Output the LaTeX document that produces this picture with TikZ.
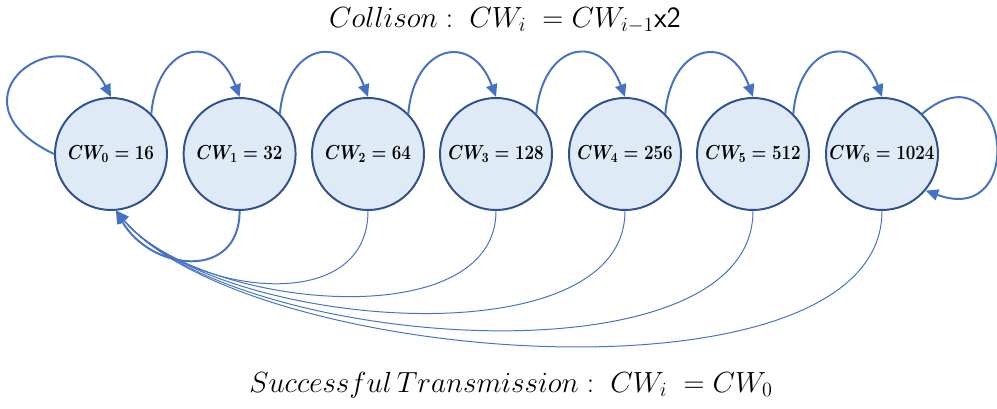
\documentclass[tikz,border=0pt]{standalone}
\usepackage{amsmath,graphicx}
\usetikzlibrary{arrows.meta}
\definecolor{cwfill}{HTML}{DEEBF7}
\definecolor{cwline}{HTML}{2F528F}
\definecolor{cwarrow}{HTML}{4472C4}
\newcommand{\etiq}[1]{\makebox[0pt]{\scalebox{0.84}[1]{\boldmath$#1$}}}
\tikzset{etat/.style={circle,draw=cwline,line width=1.4pt,fill=cwfill,minimum size=2.8cm,inner sep=0pt,font=\fontsize{14.5}{17}\selectfont},saut/.style={-{Triangle[length=9pt,width=8pt]},color=cwarrow,line width=1.4pt},retour/.style={-{Triangle[length=9pt,width=8pt]},color=cwarrow,line width=0.7pt},legende/.style={font=\fontsize{21}{25}\selectfont}}

\begin{document}
\begin{tikzpicture}
\useasboundingbox (0,0) rectangle (24.925,10.225);
\node[etat] (cw0) at (2.775,6.375) {\etiq{CW_0=16}};
\node[etat] (cw1) at (5.99,6.375) {\etiq{CW_1=32}};
\node[etat] (cw2) at (9.2,6.375) {\etiq{CW_2=64}};
\node[etat] (cw3) at (12.4,6.375) {\etiq{CW_3=128}};
\node[etat] (cw4) at (15.625,6.375) {\etiq{CW_4=256}};
\node[etat] (cw5) at (18.825,6.375) {\etiq{CW_5=512}};
\node[etat] (cw6) at (22.05,6.375) {\etiq{CW_6=1024}};
\node[legende] (coll) at (12.625,9.725) {$Collison:\;CW_i\;=CW_{i-1}$\textsf{x2}};
\node[legende] (succ) at (12.775,0.6) {$Successful\,Transmission:\;CW_i\;=CW_0$};
% collision : on double la fenetre
\draw[saut] (cw0.west) .. controls +(-2.875,1.375) and +(-1.125,2.2) .. (cw0.north);
\draw[saut] (cw0.45) to[out=85,in=110,looseness=2] (cw1.north);
\draw[saut] (cw1.45) to[out=85,in=110,looseness=2] (cw2.north);
\draw[saut] (cw2.45) to[out=85,in=110,looseness=2] (cw3.north);
\draw[saut] (cw3.45) to[out=85,in=110,looseness=2] (cw4.north);
\draw[saut] (cw4.45) to[out=85,in=110,looseness=2] (cw5.north);
\draw[saut] (cw5.45) to[out=85,in=110,looseness=2] (cw6.north);
\draw[saut] (cw6.45) to[out=40,in=-20,looseness=3.7] (cw6.-40);
% transmission reussie : retour a CW0
\draw[saut] (cw1.south) to[out=-90,in=-60,looseness=1.45] (cw0.-85);
\draw[retour] (cw2.south) to[out=-90,in=-50,looseness=1.1] (cw0.-85);
\draw[retour] (cw3.south) to[out=-90,in=-50,looseness=0.86] (cw0.-85);
\draw[retour] (cw4.south) to[out=-90,in=-50,looseness=0.77] (cw0.-85);
\draw[retour] (cw5.south) to[out=-90,in=-50,looseness=0.72] (cw0.-85);
\draw[retour] (cw6.south) to[out=-90,in=-50,looseness=0.68] (cw0.-85);
\end{tikzpicture}
\end{document}
